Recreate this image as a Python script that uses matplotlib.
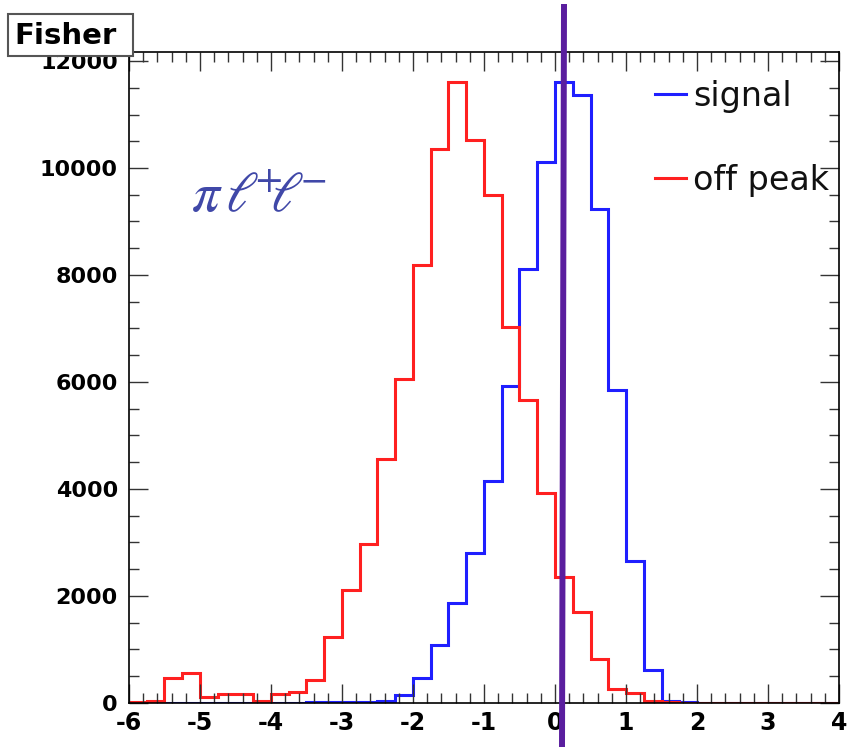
import numpy as np
import matplotlib
matplotlib.use("Agg")
import matplotlib.pyplot as plt
from matplotlib.ticker import MultipleLocator
from matplotlib.patches import Rectangle
from matplotlib.lines import Line2D

# Fisher discriminant histograms, bins of 0.25 from -6 to 4
bin_edges = np.arange(-6.0, 4.0001, 0.25)

signal = [0, 0, 0, 0, 0, 0, 0, 0, 0, 0,
          5, 5, 10, 15, 25, 135, 460, 1070, 1870, 2800,
          4140, 5920, 8115, 10110, 11610, 11360, 9240, 5845, 2650, 610,
          30, 5, 0, 0, 0, 0, 0, 0, 0, 0]

off_peak = [10, 40, 470, 550, 100, 160, 160, 25, 160, 200,
            420, 1230, 2110, 2970, 4550, 6050, 8180, 10350, 11600, 10520,
            9500, 7020, 5670, 3930, 2360, 1690, 810, 250, 175, 30,
            5, 0, 0, 0, 0, 0, 0, 0, 0, 0]

labels = ["signal", "off peak"]
x_range = (-6, 4)
y_max = 12170

plt.rcParams["axes.unicode_minus"] = False
plt.rcParams["mathtext.fontset"] = "stix"

fig = plt.figure(figsize=(8.48, 7.47), dpi=100)
ax = fig.add_axes([0.1521, 0.0593, 0.8373, 0.8711])

ax.stairs(signal, bin_edges, color="#1f1fff", lw=2.2, label=labels[0])
ax.stairs(off_peak, bin_edges, color="#ff2020", lw=2.2, label=labels[1])

ax.set_xlim(*x_range)
ax.set_ylim(0, y_max)

ax.xaxis.set_major_locator(MultipleLocator(1))
ax.xaxis.set_minor_locator(MultipleLocator(0.2))
ax.yaxis.set_major_locator(MultipleLocator(2000))
ax.yaxis.set_minor_locator(MultipleLocator(500))
ax.tick_params(which="both", direction="in", top=True, right=True,
               color="#333333", width=1)
ax.tick_params(which="major", length=14)
ax.tick_params(which="minor", length=7)
ax.tick_params(axis="y", pad=8)
ax.tick_params(axis="x", pad=6)
for lab in ax.get_xticklabels() + ax.get_yticklabels():
    lab.set_fontfamily("DejaVu Sans")
    lab.set_fontweight("bold")
    lab.set_fontsize(16)
for lab in ax.get_xticklabels():
    lab.set_fontsize(17)
for sp in ax.spines.values():
    sp.set_linewidth(1.2)

leg = ax.legend(loc="upper left", bbox_to_anchor=(0.741, 0.957), frameon=False,
                fontsize=24, handlelength=0.93, handletextpad=0.21,
                labelspacing=1.52, borderpad=0, borderaxespad=0)
for t in leg.get_texts():
    t.set_color("#111111")

# decay mode label
fig.text(191 / 848, 1 - 212 / 747, r"$\pi\/\ell^{\!\!\!+}\!\!\!\ell^{\!\!\!-}$",
         color="#4048a8", fontsize=40, ha="left", va="baseline")

# histogram title box
fig.patches.append(Rectangle((8 / 848, 1 - 56 / 747), 125 / 848, 42 / 747,
                             transform=fig.transFigure, fc="white",
                             ec="#555555", lw=1.5, zorder=5))
fig.text(14 / 848, 1 - 36 / 747, "Fisher", fontsize=21, fontweight="bold",
         family="DejaVu Sans", ha="left", va="center", zorder=6)

# cut line
fig.add_artist(Line2D([564 / 848, 562 / 848], [1 - 7 / 747, 0],
                      transform=fig.transFigure, color="#5a1e9e", lw=4.3,
                      zorder=10))

fig.savefig("out.png", dpi=100)
